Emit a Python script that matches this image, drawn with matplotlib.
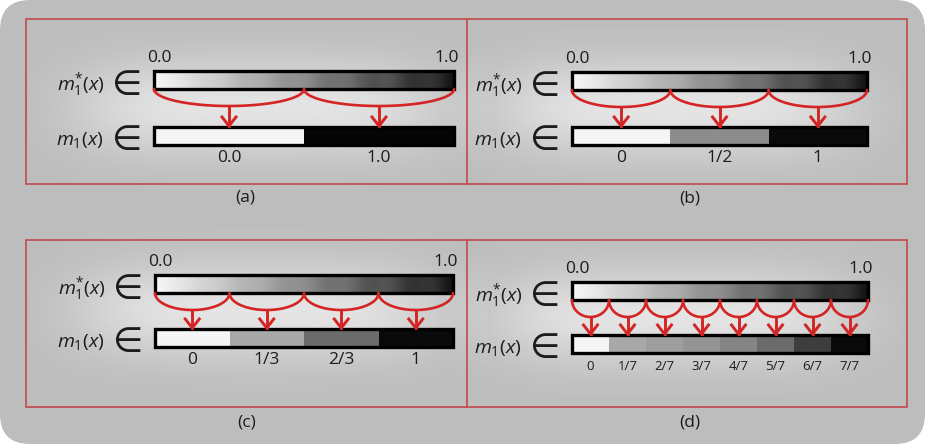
import numpy as np
import matplotlib.pyplot as plt
from matplotlib.patches import Rectangle, FancyBboxPatch

plt.rcParams['font.family'] = ['Open Sans', 'DejaVu Sans']
plt.rcParams['mathtext.fontset'] = 'custom'
plt.rcParams['mathtext.rm'] = 'Open Sans'
plt.rcParams['mathtext.it'] = 'Open Sans:italic'

# data: quantisation levels per panel
panel_names = ['(a)', '(b)', '(c)', '(d)']
labels_a = ['0.0', '1.0']
labels_b = ['0', '1/2', '1']
labels_c = ['0', '1/3', '2/3', '1']
labels_d = ['0', '1/7', '2/7', '3/7', '4/7', '5/7', '6/7', '7/7']
grays_a = [0.96, 0.02]
grays_b = [0.96, 0.55, 0.04]
grays_c = [0.96, 0.66, 0.42, 0.04]
grays_d = [0.96, 0.66, 0.62, 0.58, 0.52, 0.42, 0.24, 0.04]
range_labels = ['0.0', '1.0']

all_labels = [labels_a, labels_b, labels_c, labels_d]
all_grays = [grays_a, grays_b, grays_c, grays_d]

# layout (pixels)
bar_left = [154, 572, 155, 572]
bar_right = [454, 867, 453, 868]
bar_top = [71, 72, 275, 282]
low_top = [127, 127, 329, 335]
bar_h = 18
label_fs = [12.5, 12.5, 12.5, 9.5]
name_pos = [(245, 197), (690, 198), (247, 422), (690, 422)]

RED = '#d42424'
FRAME = '#c2484b'
INK = '#1c1c1c'

fig = plt.figure(figsize=(9.25, 4.44), dpi=100)
ax = fig.add_axes([0, 0, 1, 1])
ax.set_xlim(0, 925)
ax.set_ylim(444, 0)
ax.axis('off')

bg = FancyBboxPatch((0, 0), 925, 444, boxstyle='round,pad=0,rounding_size=30',
                    fc='#bdbdbd', ec='none', zorder=0)
ax.add_patch(bg)

# soft light glow behind each bar pair
for i in range(4):
    x0, x1 = bar_left[i] - 125, bar_right[i] + 35
    y0, y1 = bar_top[i] - 45, low_top[i] + bar_h + 45
    gx = np.linspace(-1, 1, 240)
    gy = np.linspace(-1, 1, 100)
    X, Y = np.meshgrid(gx, gy)
    a = np.exp(-(np.abs(X) ** 4 * 2.5 + np.abs(Y) ** 2 * 3.0)) * 0.6
    img = np.ones((100, 240, 4))
    img[..., 3] = a
    ax.imshow(img, extent=(x0, x1, y1, y0), zorder=1, interpolation='bilinear',
              aspect='auto')

# red frames
for (fx, fy, fw, fh) in [(26, 19, 881, 165), (26, 240, 881, 167)]:
    ax.add_patch(Rectangle((fx, fy), fw, fh, fill=False, ec=FRAME, lw=1.2, zorder=2))
ax.plot([467, 467], [19, 184], color=FRAME, lw=1.2, zorder=2)
ax.plot([467, 467], [240, 407], color=FRAME, lw=1.2, zorder=2)

t = np.linspace(0, 1, 400)
grad = 0.97 - 0.86 * t - 0.035 * np.cos(2 * np.pi * 7 * t) * t
grad = np.clip(grad, 0, 1)[None, :]

for i in range(4):
    L, R, T, LT = bar_left[i], bar_right[i], bar_top[i], low_top[i]
    labs, grays = all_labels[i], all_grays[i]
    n = len(labs)
    w = (R - L) / n
    B = T + bar_h

    # continuous bar
    ax.imshow(grad, cmap='gray', vmin=0, vmax=1, extent=(L, R, B, T),
              aspect='auto', zorder=3, interpolation='bilinear')
    ax.add_patch(Rectangle((L, T), R - L, bar_h, fill=False, ec='black', lw=2.4, zorder=4))

    # quantised bar
    for k, g in enumerate(grays):
        ax.add_patch(Rectangle((L + k * w, LT), w, bar_h, fc=str(g), ec='none', zorder=3))
    ax.add_patch(Rectangle((L, LT), R - L, bar_h, fill=False, ec='black', lw=2.4, zorder=4))

    # braces and arrows
    depth = 17
    th = np.linspace(0, np.pi, 60)
    for k in range(n):
        cx = L + (k + 0.5) * w
        ax.plot(cx - (w / 2) * np.cos(th), B + depth * np.sin(th), color=RED,
                lw=1.9, zorder=5, solid_capstyle='round')
        tip = LT - 1
        ax.plot([cx, cx], [B + depth, tip], color=RED, lw=2.1, zorder=5)
        ax.plot([cx - 7, cx, cx + 7], [tip - 9, tip, tip - 9], color=RED, lw=2.1,
                zorder=5, solid_joinstyle='miter')
        ax.text(cx, LT + bar_h + 13, labs[k], ha='center', va='center',
                fontsize=label_fs[i], color=INK, zorder=6)

    ax.text(L + 5, T - 13, range_labels[0], ha='center', va='center', fontsize=12.5,
            color=INK, zorder=6)
    ax.text(R - 7, T - 13, range_labels[1], ha='center', va='center', fontsize=12.5,
            color=INK, zorder=6)

    # set membership labels
    ax.text(L - 49, T + bar_h / 2 + 5, r'$m_1^{*}(x)$', ha='right', va='center',
            fontsize=14, color=INK, zorder=6)
    ax.text(L - 51, LT + bar_h / 2 + 4, r'$m_1(x)$', ha='right', va='center',
            fontsize=14, color=INK, zorder=6)
    for yy in (T + bar_h / 2 + 5, LT + bar_h / 2 + 4):
        ax.text(L - 27, yy, '\u2208', ha='center', va='center', fontsize=25,
                family='DejaVu Sans', color=INK, zorder=6)

    ax.text(name_pos[i][0], name_pos[i][1], panel_names[i], ha='center', va='center',
            fontsize=12.5, color=INK, zorder=6)

fig.savefig('out.png', dpi=100, facecolor='white')
